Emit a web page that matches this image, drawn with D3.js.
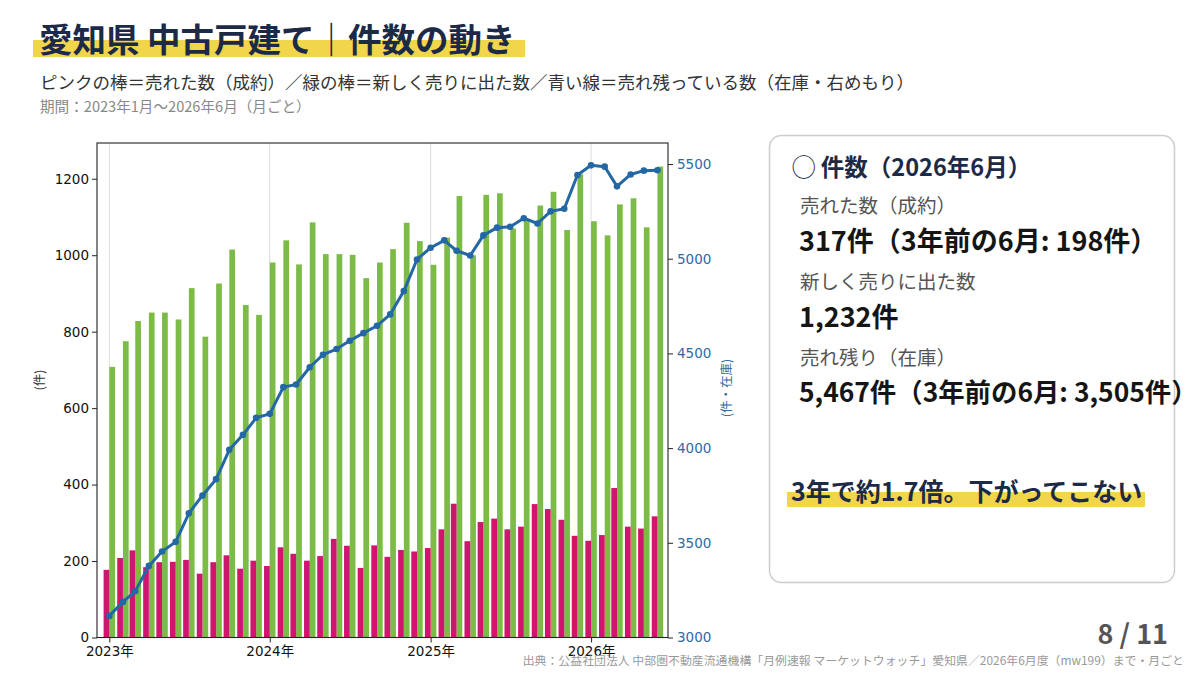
<!DOCTYPE html>
<html lang="ja">
<head>
<meta charset="UTF-8">
<title>愛知県 中古戸建て｜件数の動き</title>
<script src="https://d3js.org/d3.v7.min.js"></script>
<style>
  body { margin: 0; background: #fff; }
  svg { display: block; }
  .jp { font-family: "Noto Sans CJK JP", "Noto Sans", sans-serif; }
</style>
</head>
<body>
<svg width="1200" height="675"></svg>
<script>
// months, Jan 2023 .. Jun 2026
const months = [
  "2023-01","2023-02","2023-03","2023-04","2023-05","2023-06","2023-07","2023-08","2023-09","2023-10","2023-11","2023-12",
  "2024-01","2024-02","2024-03","2024-04","2024-05","2024-06","2024-07","2024-08","2024-09","2024-10","2024-11","2024-12",
  "2025-01","2025-02","2025-03","2025-04","2025-05","2025-06","2025-07","2025-08","2025-09","2025-10","2025-11","2025-12",
  "2026-01","2026-02","2026-03","2026-04","2026-05","2026-06"
];
// 売れた数（成約）
const sold = [
  177, 208, 228, 184, 197, 198, 203, 167, 197, 215, 180, 201,
  187, 236, 219, 201, 213, 258, 240, 182, 241, 211, 229, 225,
  234, 283, 350, 252, 302, 311, 283, 290, 349, 336, 308, 266,
  253, 268, 391, 290, 285, 317
];
// 新しく売りに出た数
const listed = [
  708, 775, 828, 850, 850, 832, 914, 787, 926, 1015, 870, 844,
  981, 1039, 976, 1086, 1003, 1003, 1001, 940, 981, 1016, 1085, 1037,
  975, 1046, 1155, 1000, 1158, 1162, 1070, 1092, 1130, 1166, 1066, 1212,
  1089, 1052, 1133, 1149, 1073, 1232
];
// 売れ残り（在庫）
const stock = [
  3114, 3188, 3244, 3378, 3454, 3505, 3656, 3750, 3836, 3991, 4070, 4160,
  4181, 4322, 4336, 4427, 4493, 4523, 4567, 4607, 4646, 4706, 4829, 4996,
  5058, 5097, 5042, 5017, 5123, 5164, 5169, 5214, 5186, 5250, 5264, 5442,
  5493, 5486, 5382, 5445, 5465, 5467
];
const leftTicks = [0, 200, 400, 600, 800, 1000, 1200];
const rightTicks = [3000, 3500, 4000, 4500, 5000, 5500];
const yearTicks = ["2023-01", "2024-01", "2025-01", "2026-01"];

const parse = d3.timeParse("%Y-%m");
const dates = months.map(parse);

const svg = d3.select("svg");
const plot = { left: 97, right: 668, top: 143, bottom: 637.5 };

const x = d3.scaleTime()
  .domain([new Date(2022, 11, 4), new Date(2026, 5, 25)])
  .range([plot.left, plot.right]);
const yL = d3.scaleLinear().domain([0, 1293.6]).range([plot.bottom, plot.top]);
const yR = d3.scaleLinear().domain([3000, 5611]).range([plot.bottom, plot.top]);
const barW = x(d3.timeDay.offset(dates[0], 13)) - x(dates[0]);

const pink = "#d0156f", green = "#7dbb47", blue = "#2367a5", navy = "#1c2a47";
const tickFont = "'DejaVu Sans', 'Noto Sans CJK JP', sans-serif";

// title
svg.append("rect").attr("x", 33).attr("y", 40).attr("width", 492).attr("height", 17).attr("fill", "#f1d54a");
svg.append("text").attr("class", "jp").attr("x", 39).attr("y", 52)
  .attr("font-size", 33.5).attr("font-weight", 700).attr("fill", navy)
  .text("愛知県 中古戸建て｜件数の動き");
svg.append("text").attr("class", "jp").attr("x", 40).attr("y", 89)
  .attr("font-size", 17.5).attr("fill", "#333")
  .text("ピンクの棒＝売れた数（成約）／緑の棒＝新しく売りに出た数／青い線＝売れ残っている数（在庫・右めもり）");
svg.append("text").attr("class", "jp").attr("x", 40).attr("y", 112)
  .attr("font-size", 14.6).attr("fill", "#888")
  .text("期間：2023年1月～2026年6月（月ごと）");

// year gridlines
svg.append("g").selectAll("line").data(yearTicks.map(parse)).join("line")
  .attr("x1", d => x(d)).attr("x2", d => x(d))
  .attr("y1", plot.top).attr("y2", plot.bottom)
  .attr("stroke", "#dddddd").attr("stroke-width", 1);

// bars
svg.append("g").selectAll("rect").data(listed).join("rect")
  .attr("x", (d, i) => x(dates[i]))
  .attr("y", d => yL(d))
  .attr("width", barW)
  .attr("height", d => yL(0) - yL(d))
  .attr("fill", green);
svg.append("g").selectAll("rect").data(sold).join("rect")
  .attr("x", (d, i) => x(dates[i]) - barW)
  .attr("y", d => yL(d))
  .attr("width", barW)
  .attr("height", d => yL(0) - yL(d))
  .attr("fill", pink);

// inventory line
const line = d3.line().x((d, i) => x(dates[i])).y(d => yR(d));
svg.append("path").datum(stock)
  .attr("d", line).attr("fill", "none")
  .attr("stroke", blue).attr("stroke-width", 3).attr("stroke-linejoin", "round");
svg.append("g").selectAll("circle").data(stock).join("circle")
  .attr("cx", (d, i) => x(dates[i])).attr("cy", d => yR(d))
  .attr("r", 3.3).attr("fill", blue);

// frame
svg.append("rect")
  .attr("x", plot.left).attr("y", plot.top)
  .attr("width", plot.right - plot.left).attr("height", plot.bottom - plot.top)
  .attr("fill", "none").attr("stroke", "#222").attr("stroke-width", 1.1);

// axes
function styleAxis(g, color) {
  g.select(".domain").remove();
  g.selectAll(".tick line").attr("stroke", "#222");
  g.selectAll(".tick text")
    .attr("fill", color)
    .style("font-family", tickFont)
    .style("font-size", "13.5px");
}

const gL = svg.append("g").attr("transform", `translate(${plot.left},0)`)
  .call(d3.axisLeft(yL).tickValues(leftTicks).tickFormat(d3.format("d")).tickSize(5).tickPadding(3));
styleAxis(gL, "#111");

const gR = svg.append("g").attr("transform", `translate(${plot.right},0)`)
  .call(d3.axisRight(yR).tickValues(rightTicks).tickFormat(d3.format("d")).tickSize(5).tickPadding(4));
styleAxis(gR, "#2d6a9f");

const gB = svg.append("g").attr("transform", `translate(0,${plot.bottom})`)
  .call(d3.axisBottom(x).tickValues(yearTicks.map(parse))
    .tickFormat(d => d.getFullYear() + "年").tickSize(5).tickPadding(4));
styleAxis(gB, "#111");

svg.append("text").attr("class", "jp")
  .attr("transform", "translate(44,380) rotate(-90)")
  .attr("text-anchor", "middle").attr("font-size", 12.5).attr("fill", "#333")
  .text("(件)");
svg.append("text").attr("class", "jp")
  .attr("transform", "translate(731,388) rotate(-90)")
  .attr("text-anchor", "middle").attr("font-size", 12.5).attr("fill", "#2d6a9f")
  .text("(件・在庫)");

// summary card
svg.append("rect").attr("x", 769.5).attr("y", 135.5).attr("width", 405).attr("height", 447)
  .attr("rx", 12).attr("fill", "#fff").attr("stroke", "#cccccc").attr("stroke-width", 1.5);
const card = [
  { t: "◯ 件数（2026年6月）", x: 792, y: 176, s: 23.5, w: 700, c: navy },
  { t: "売れた数（成約）", x: 800, y: 213, s: 19.5, w: 400, c: "#555" },
  { t: "317件（3年前の6月: 198件）", x: 799, y: 251, s: 27, w: 700, c: "#151515" },
  { t: "新しく売りに出た数", x: 800, y: 289, s: 19.5, w: 400, c: "#555" },
  { t: "1,232件", x: 799, y: 327, s: 27, w: 700, c: "#151515" },
  { t: "売れ残り（在庫）", x: 800, y: 365, s: 19.5, w: 400, c: "#555" },
  { t: "5,467件（3年前の6月: 3,505件）", x: 799, y: 402, s: 26.4, w: 700, c: "#151515" }
];
svg.append("rect").attr("x", 787).attr("y", 492).attr("width", 358).attr("height", 15).attr("fill", "#f1d54a");
card.push({ t: "3年で約1.7倍。下がってこない", x: 791, y: 501, s: 25, w: 700, c: navy });
svg.append("g").selectAll("text").data(card).join("text")
  .attr("class", "jp")
  .attr("x", d => d.x).attr("y", d => d.y)
  .attr("font-size", d => d.s).attr("font-weight", d => d.w).attr("fill", d => d.c)
  .text(d => d.t);

// footer
svg.append("text").attr("class", "jp").attr("x", 1168).attr("y", 644)
  .attr("text-anchor", "end").attr("font-size", 27).attr("font-weight", 700).attr("fill", "#555")
  .text("8 / 11");
svg.append("text").attr("class", "jp").attr("x", 1184).attr("y", 665)
  .attr("text-anchor", "end").attr("font-size", 11.9).attr("fill", "#999")
  .text("出典：公益社団法人 中部圏不動産流通機構「月例速報 マーケットウォッチ」愛知県／2026年6月度（mw199）まで・月ごと");
</script>
</body>
</html>
